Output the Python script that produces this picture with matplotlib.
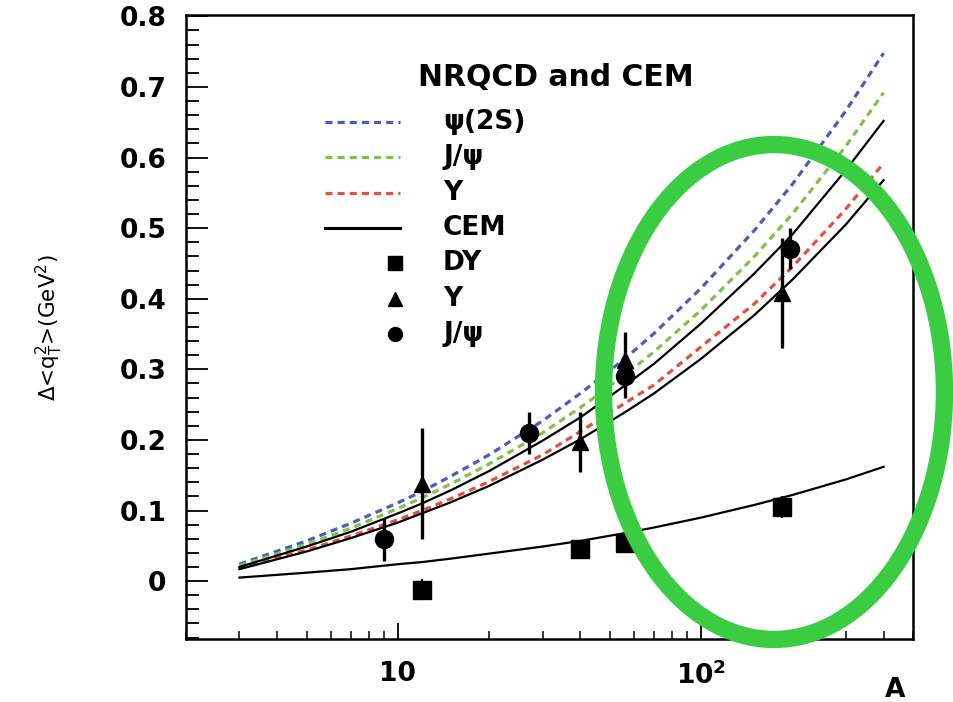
import matplotlib
matplotlib.use('Agg')
import matplotlib.pyplot as plt
from matplotlib.patches import Ellipse
from matplotlib.ticker import LogLocator, MultipleLocator, NullFormatter

# nuclear mass number grid for the model curves
A_curve = [3, 5, 7, 10, 12, 15, 20, 30, 40, 56, 70, 100, 150, 200, 300, 400]

# NRQCD predictions
nrqcd_psi2s = [0.024, 0.057, 0.082, 0.111, 0.127, 0.149, 0.179, 0.227, 0.266, 0.315,
               0.351, 0.415, 0.497, 0.562, 0.666, 0.748]
nrqcd_jpsi = [0.022, 0.052, 0.075, 0.103, 0.118, 0.138, 0.166, 0.210, 0.246, 0.292,
              0.325, 0.384, 0.460, 0.520, 0.616, 0.692]
nrqcd_ups = [0.018, 0.044, 0.064, 0.087, 0.100, 0.117, 0.141, 0.179, 0.212, 0.252,
             0.278, 0.332, 0.393, 0.445, 0.527, 0.592]

# CEM predictions (two quarkonium curves + Drell-Yan)
cem_upper = [0.020, 0.049, 0.070, 0.096, 0.110, 0.129, 0.156, 0.199, 0.232, 0.277,
             0.308, 0.365, 0.436, 0.491, 0.582, 0.652]
cem_lower = [0.017, 0.042, 0.061, 0.083, 0.096, 0.112, 0.135, 0.172, 0.201, 0.239,
             0.266, 0.315, 0.377, 0.427, 0.505, 0.568]
cem_dy = [0.005, 0.012, 0.017, 0.024, 0.027, 0.032, 0.039, 0.049, 0.057, 0.068,
          0.076, 0.090, 0.108, 0.122, 0.144, 0.162]

# measurements
dy_A = [12, 40, 56, 185]
dy_val = [-0.012, 0.046, 0.054, 0.105]
dy_err = [0.015, 0.010, 0.010, 0.016]

ups_A = [12, 40, 56, 185]
ups_val = [0.138, 0.197, 0.313, 0.408]
ups_err = [0.079, 0.042, 0.040, 0.078]

jpsi_A = [9, 27, 56, 197]
jpsi_val = [0.059, 0.210, 0.290, 0.471]
jpsi_err = [0.031, 0.030, 0.030, 0.029]

y_ticks = [0, 0.1, 0.2, 0.3, 0.4, 0.5, 0.6, 0.7, 0.8]
y_ticklabels = ['0', '0.1', '0.2', '0.3', '0.4', '0.5', '0.6', '0.7', '0.8']

blue = '#4a5cc0'
green = '#7cc448'
red = '#e4503e'
dash = (2.2, 1.6)

plt.rcParams['font.family'] = ['DejaVu Sans']

fig = plt.figure(figsize=(9.54, 7.02), dpi=100)
ax = fig.add_axes([0.195, 0.0897, 0.762, 0.889])

ax.plot(A_curve, nrqcd_psi2s, color=blue, lw=2.3, dashes=dash)
ax.plot(A_curve, nrqcd_jpsi, color=green, lw=2.3, dashes=dash)
ax.plot(A_curve, nrqcd_ups, color=red, lw=2.3, dashes=dash)
ax.plot(A_curve, cem_upper, color='black', lw=1.6)
ax.plot(A_curve, cem_lower, color='black', lw=1.6)
ax.plot(A_curve, cem_dy, color='black', lw=1.6)

ax.errorbar(dy_A, dy_val, yerr=dy_err, fmt='s', color='black', ms=13,
            elinewidth=1.6, capsize=0)
ax.errorbar(ups_A, ups_val, yerr=ups_err, fmt='^', color='black', ms=12,
            elinewidth=2.4, capsize=0)
ax.errorbar(jpsi_A, jpsi_val, yerr=jpsi_err, fmt='o', color='black', ms=13,
            elinewidth=2.4, capsize=0)

ax.set_xscale('log')
ax.set_xlim(2, 500)
ax.set_ylim(-0.082, 0.802)

ax.set_xticks([10, 100])
ax.set_xticklabels(['10', r'$\mathbf{10^{2}}$'])
ax.xaxis.set_minor_locator(LogLocator(base=10, subs=range(2, 10)))
ax.xaxis.set_minor_formatter(NullFormatter())
ax.set_yticks(y_ticks)
ax.set_yticklabels(y_ticklabels)
ax.yaxis.set_minor_locator(MultipleLocator(0.02))

ax.tick_params(axis='x', which='major', direction='in', length=11.5, width=1.3,
               pad=16, labelsize=19, top=False)
ax.tick_params(axis='x', which='minor', direction='in', length=6, width=1.1, top=False)
ax.tick_params(axis='y', which='major', direction='in', length=16, width=1.3,
               pad=14, labelsize=19, right=False)
ax.tick_params(axis='y', which='minor', direction='in', length=9, width=1.3, right=False)
for lab in ax.get_xticklabels() + ax.get_yticklabels():
    lab.set_fontweight('bold')
for sp in ax.spines.values():
    sp.set_linewidth(1.8)

# legend box drawn by hand
tr = ax.transAxes
ax.text(0.509, 0.899, 'NRQCD and CEM', transform=tr, ha='center', va='center',
        fontsize=21.5, fontweight='bold')
row_y = 0.8285
step = 0.0566
entries = [
    ('line', blue, 'ψ(2S)'),
    ('line', green, 'J/ψ'),
    ('line', red, 'Υ'),
    ('solid', 'black', 'CEM'),
    ('s', 'black', 'DY'),
    ('^', 'black', 'Υ'),
    ('o', 'black', 'J/ψ'),
]
for i, (kind, col, lab) in enumerate(entries):
    yy = row_y - i * step
    if kind == 'line':
        ax.plot([0.191, 0.294], [yy, yy], transform=tr, color=col, lw=2.3,
                dashes=dash, clip_on=False)
    elif kind == 'solid':
        ax.plot([0.191, 0.294], [yy, yy], transform=tr, color=col, lw=2.2,
                clip_on=False)
    else:
        ax.plot([0.288], [yy], transform=tr, marker=kind, color=col, ms=10,
                ls='none', clip_on=False)
    ax.text(0.3535, yy, lab, transform=tr, ha='left', va='center', fontsize=19,
            fontweight='bold')

fig.text(0.052, 0.533, r'$\Delta$<q$_{\rm T}^{2}$>(GeV$^{2}$)', rotation=90,
         fontsize=15.5, ha='center', va='center')
fig.text(0.938, 0.017, 'A', fontsize=19, fontweight='bold', ha='center', va='center')

# highlight around the heavy-nucleus region
ring = Ellipse((0.8113, 0.4416), 0.3574, 0.705, transform=fig.transFigure,
               fill=False, edgecolor='#3acd42', linewidth=12.5)
fig.add_artist(ring)

fig.savefig('out.png', dpi=100)
